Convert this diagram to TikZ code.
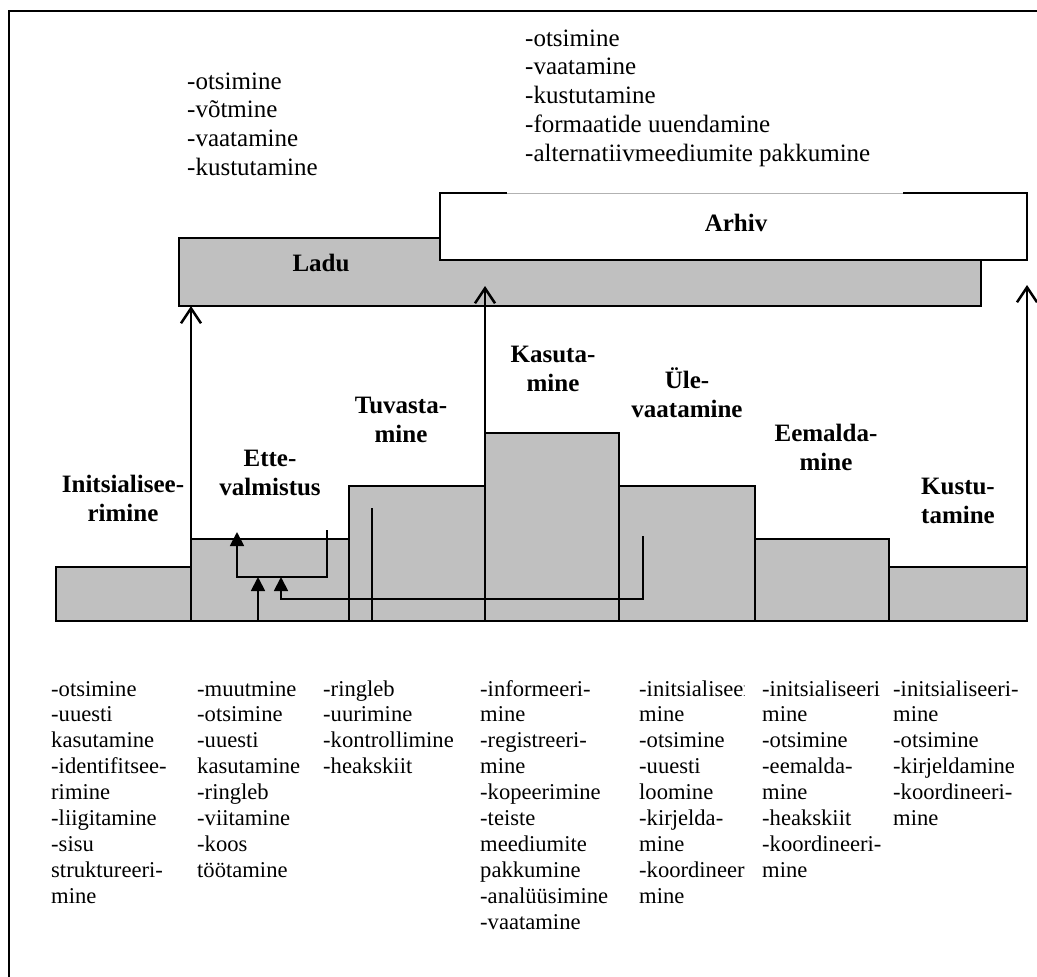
\documentclass[tikz,border=0pt]{standalone}
\usepackage{fontspec}
\setmainfont{Liberation Serif}
\usetikzlibrary{arrows.meta}
\definecolor{boxgray}{RGB}{192,192,192}

\begin{document}
\begin{tikzpicture}[x=1pt,y=-1pt,
  phase/.style={fill=boxgray, draw=black, line width=1.8pt},
  store/.style={draw=black, line width=1.8pt},
  % multi-line nodes are placed by the baseline of their last line
  head/.style={inner sep=0pt, anchor=base, align=center, font=\fontsize{25}{29}\selectfont\bfseries},
  toplist/.style={inner sep=0pt, anchor=base west, align=left, font=\fontsize{25}{28.9}\selectfont},
  botlist/.style={inner sep=0pt, anchor=base west, align=left, font=\fontsize{22.6}{25.9}\selectfont},
  bigarrow/.style={line width=2.5pt, -{Straight Barb[length=15pt,width=20pt]}},
  looparrow/.style={line width=1.8pt, -{Triangle[length=14pt,width=14pt]}}
]
\useasboundingbox (0,0) rectangle (1037,977);

% frame
\draw[line width=2pt] (9,977) -- (9,11) -- (1037,11);

% storage layers
\path[phase] (179,238) rectangle (981,306);
\path[fill=white, store] (440,193) rectangle (1027,260);
\draw[white, line width=2.2pt] (507,193) -- (903,193);
\draw[gray!60, line width=1pt] (507,193) -- (903,193);
\node[head] (ladu) at (321,271) {Ladu};
\node[head] (arhiv) at (736,231) {Arhiv};

% life-cycle phases
\path[phase] (56,567) rectangle (191,621);
\path[phase] (191,539) rectangle (349,621);
\path[phase] (349,486) rectangle (485,621);
\path[phase] (485,433) rectangle (619,621);
\path[phase] (619,486) rectangle (755,621);
\path[phase] (755,539) rectangle (889,621);
\path[phase] (889,567) rectangle (1027,621);

\node[head] (init) at (123,521) {Initsialisee-\\rimine};
\node[head] (ette) at (270,495) {Ette-\\valmistus};
\node[head] (tuv) at (401,442) {Tuvasta-\\mine};
\node[head] (kas) at (553,391) {Kasuta-\\mine};
\node[head] (yle) at (687,417) {Üle-\\vaatamine};
\node[head] (eem) at (826,470) {Eemalda-\\mine};
\node[head] (kus) at (958,523) {Kustu-\\tamine};

% arrows up into the storage layers
\coordinate (a1s) at (191,553);
\coordinate (a1e) at (191,306);
\coordinate (a2s) at (485,440);
\coordinate (a2e) at (485,286);
\coordinate (a3s) at (1027,583);
\coordinate (a3e) at (1027,285);
\draw[bigarrow] (a1s) -- (a1e);
\draw[bigarrow] (a2s) -- (a2e);
\draw[bigarrow] (a3s) -- (a3e);

% feedback loops into preparation
\coordinate (l1s) at (327,530);
\coordinate (l1e) at (237,532);
\coordinate (l2s) at (372,508);
\coordinate (l2e) at (258,577);
\coordinate (l3s) at (643,536);
\coordinate (l3e) at (281,577);
\draw[looparrow] (l1s) -- (327,577) -- (237,577) -- (l1e);
\draw[looparrow] (l2s) -- (372,621) -- (258,621) -- (l2e);
\draw[looparrow] (l3s) -- (643,599) -- (281,599) -- (l3e);

% activities of the storage layers
\node[toplist] (ladulist) at (187,175.7) {-otsimine\\-võtmine\\-vaatamine\\-kustutamine};
\node[toplist] (arhivlist) at (525,161.6) {-otsimine\\-vaatamine\\-kustutamine\\-formaatide uuendamine\\-alternatiivmeediumite pakkumine};

% activities of the phases
\node[botlist] (c1) at (51,903.2) {-otsimine\\-uuesti\\kasutamine\\-identifitsee-\\rimine\\-liigitamine\\-sisu\\struktureeri-\\mine};
\node[botlist] (c2) at (197,877.3) {-muutmine\\-otsimine\\-uuesti\\kasutamine\\-ringleb\\-viitamine\\-koos\\töötamine};
\node[botlist] (c3) at (323,773.7) {-ringleb\\-uurimine\\-kontrollimine\\-heakskiit};
\node[botlist] (c4) at (480,929.1) {-informeeri-\\mine\\-registreeri-\\mine\\-kopeerimine\\-teiste\\meediumite\\pakkumine\\-analüüsimine\\-vaatamine};
\begin{scope}
  \clip (600,660) rectangle (744,930);
  \node[botlist] (c5) at (639,903.2) {-initsialiseeri-\\mine\\-otsimine\\-uuesti\\loomine\\-kirjelda-\\mine\\-koordineeri-\\mine};
\end{scope}
\node[botlist] (c6) at (762,877.3) {-initsialiseeri\\mine\\-otsimine\\-eemalda-\\mine\\-heakskiit\\-koordineeri-\\mine};
\node[botlist] (c7) at (893,825.5) {-initsialiseeri-\\mine\\-otsimine\\-kirjeldamine\\-koordineeri-\\mine};
\end{tikzpicture}
\end{document}
